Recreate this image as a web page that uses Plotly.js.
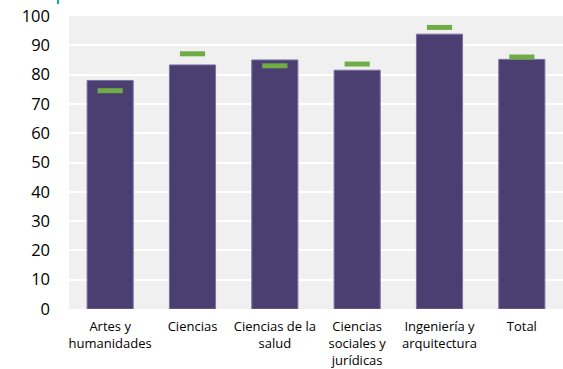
<!DOCTYPE html>
<html>
<head>
<meta charset="utf-8">
<script src="https://cdn.plot.ly/plotly-3.0.1.min.js"></script>
<style>html,body{margin:0;padding:0;background:#fff;}#chart{width:563px;height:369px;}</style>
</head>
<body>
<div id="chart"></div>
<script>
const categories = ["Artes y<br>humanidades", "Ciencias", "Ciencias de la<br>salud", "Ciencias<br>sociales y<br>jurídicas", "Ingeniería y<br>arquitectura", "Total"];
const barValues = [78, 83.3, 85, 81.5, 93.8, 85.2];
const markerValues = [74.5, 87.1, 83, 83.6, 96.1, 86];
const yTicks = [0, 10, 20, 30, 40, 50, 60, 70, 80, 90, 100];

const traces = [
  {
    type: "bar",
    x: categories,
    y: barValues,
    marker: {color: "#4b3f72", line: {color: "#7b72a3", width: 1}},
    hoverinfo: "skip",
    showlegend: false
  },
  {
    type: "scatter",
    mode: "markers",
    x: categories,
    y: markerValues,
    marker: {symbol: "line-ew", size: 18, line: {color: "#6fac46", width: 5}},
    hoverinfo: "skip",
    showlegend: false
  }
];

const layout = {
  width: 563,
  height: 369,
  margin: {l: 69, r: 0, t: 16, b: 60},
  paper_bgcolor: "#ffffff",
  plot_bgcolor: "#f0f0f0",
  bargap: 0.44,
  font: {family: "Open Sans, Noto Sans, sans-serif", color: "#000000"},
  xaxis: {
    type: "category",
    tickfont: {size: 13, color: "#000000"},
    ticks: "",
    showgrid: false,
    zeroline: false,
    showline: false,
    ticklabelstandoff: 8
  },
  yaxis: {
    range: [0, 100],
    tickvals: yTicks,
    ticktext: yTicks.map(String),
    tickfont: {size: 16.5, color: "#000000"},
    ticks: "",
    showgrid: true,
    gridcolor: "#ffffff",
    gridwidth: 2,
    zeroline: false,
    showline: false,
    ticklabelstandoff: 18
  },
  shapes: [
    {type: "line", xref: "paper", yref: "paper", x0: -0.0223, x1: -0.0223, y0: 1.041, y1: 1.055, line: {color: "#1aa3a8", width: 2}}
  ]
};

Plotly.newPlot("chart", traces, layout, {displayModeBar: false, staticPlot: true});
</script>
</body>
</html>
